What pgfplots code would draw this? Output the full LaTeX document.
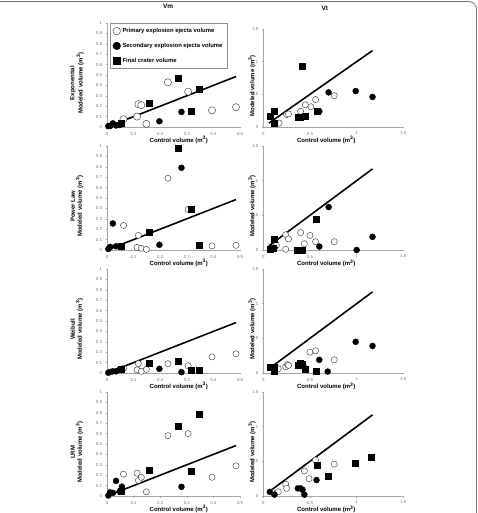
\documentclass[border=0pt]{standalone}
\usepackage{pgfplots}
\pgfplotsset{compat=1.18}
\usepackage{fontspec}
\setmainfont{Liberation Sans}
\pgfplotsset{
  base/.style={scale only axis, axis x line=bottom, axis y line=left,
    axis line style={-, black!35, line width=0.5pt},
    tick style={black!35, line width=0.4pt}, tick align=outside, major tick length=1.5pt,
    ticklabel style={font=\fontsize{4.3}{5}\selectfont, text=black!55},
    /pgf/number format/assume math mode=true,
    xtick pos=bottom, ytick pos=left,
    clip=false,
    xlabel={Control volume (m\textsuperscript{3})},
    xlabel style={font=\fontsize{6}{7}\selectfont\bfseries, inner sep=0pt, anchor=center},
    ylabel style={font=\fontsize{6}{7}\selectfont\bfseries, inner sep=0pt, align=center, rotate=0, anchor=center},
    title style={font=\fontsize{6.5}{7}\selectfont\bfseries, inner sep=0pt, anchor=center},
  },
  vm/.style={base, width=133pt, height=104pt, xmin=0, xmax=0.5, ymin=0, ymax=1,
    xtick={0,0.1,0.2,0.3,0.4,0.5}, ytick={0,0.1,0.2,0.3,0.4,0.5,0.6,0.7,0.8,0.9,1},
    xlabel style={at={(axis description cs:0.54,-0.125)}},
    ylabel style={at={(axis description cs:-0.226,0.42)}},
    title style={at={(axis description cs:0.46,1.10)}}},
  vt/.style={base, width=140pt, height=104pt, xmin=0, xmax=1.5, ymin=0, ymax=1.5,
    xtick={0,0.5,1,1.5}, ytick={0,0.5,1,1.5},
    xlabel style={at={(axis description cs:0.45,-0.13)}},
    ylabel={Modeled volume (m\textsuperscript{3})},
    ylabel style={at={(axis description cs:-0.08,0.42)}}},
  prim/.style={only marks, mark=*, mark size=3.1pt, mark options={fill=white, draw=black!75, line width=0.45pt}},
  sec/.style={only marks, mark=*, mark size=3pt, mark options={fill=black, draw=black}},
  fin/.style={only marks, mark=square*, mark size=3pt, mark options={fill=black, draw=black}},
  oneline/.style={black, line width=1.6pt, no marks, forget plot},
}
\begin{document}
\begin{tikzpicture}
\useasboundingbox (0pt,0pt) rectangle (478pt,513pt);
\draw[black!55, line width=0.8pt, rounded corners=8pt] (-5pt,511.5pt) -- (476.5pt,511.5pt) -- (476.5pt,-5pt);

% ---------------- Row 1: Exponential ----------------
\begin{axis}[vm, at={(107pt,386pt)}, anchor=south west, title={Vm},
  ylabel={Exponential\\Modeled volume (m\textsuperscript{3})},
  legend style={at={(0.02,1.0)}, anchor=north west, draw=black!45, line width=0.5pt,
    font=\fontsize{5.9}{7}\selectfont\bfseries, row sep=5pt, inner xsep=3pt, inner ysep=3pt,
    cells={anchor=west}},
  legend image code/.code={\draw[#1, mark size=3.8pt] plot coordinates {(0.2cm,0cm)};}]
\addplot[oneline] coordinates {(0.01,0.01) (0.485,0.485)};
\addplot[prim, mark size=3.6pt] coordinates {(0.062,0.075) (0.113,0.10) (0.118,0.22) (0.129,0.21) (0.148,0.03) (0.229,0.43) (0.305,0.34) (0.395,0.16) (0.485,0.19)};
\addlegendentry{Primary explosion ejecta volume}
\addplot[sec] coordinates {(0.005,0.008) (0.012,0.01) (0.022,0.035) (0.034,0.015) (0.048,0.02) (0.056,0.03) (0.197,0.055) (0.28,0.145)};
\addlegendentry{Secondary explosion ejecta volume}
\addplot[fin] coordinates {(0.055,0.04) (0.158,0.23) (0.266,0.47) (0.315,0.15) (0.348,0.36)};
\addlegendentry{Final crater volume}
\end{axis}
\begin{axis}[vt, height=98pt, at={(263.3pt,386pt)}, anchor=south west, title={Vt},
  title style={at={(axis description cs:0.44,1.15)}}]
\addplot[oneline] coordinates {(0.06,0.06) (1.17,1.17)};
\addplot[prim] coordinates {(0.17,0.06) (0.25,0.19) (0.27,0.20) (0.40,0.24) (0.45,0.34) (0.51,0.31) (0.56,0.42) (0.76,0.48)};
\addplot[sec] coordinates {(0.12,0.06) (0.60,0.24) (0.70,0.53) (0.99,0.55) (1.17,0.46)};
\addplot[fin] coordinates {(0.07,0.17) (0.12,0.24) (0.12,0.06) (0.37,0.145) (0.40,0.15) (0.42,0.93) (0.45,0.16) (0.58,0.24)};
\end{axis}

% ---------------- Row 2: Power Law ----------------
\begin{axis}[vm, at={(107pt,263pt)}, anchor=south west,
  ylabel={Power Law\\Modeled volume (m\textsuperscript{3})}]
\addplot[oneline] coordinates {(0.01,0.01) (0.485,0.485)};
\addplot[prim] coordinates {(0.062,0.235) (0.113,0.025) (0.118,0.14) (0.129,0.016) (0.148,0.006) (0.229,0.69) (0.305,0.39) (0.395,0.04) (0.485,0.045)};
\addplot[sec] coordinates {(0.005,0.01) (0.012,0.03) (0.022,0.255) (0.034,0.035) (0.048,0.035) (0.056,0.028) (0.197,0.05) (0.28,0.79)};
\addplot[fin] coordinates {(0.055,0.035) (0.158,0.17) (0.266,0.98) (0.315,0.39) (0.348,0.05)};
\end{axis}
\begin{axis}[vt, at={(263.3pt,263pt)}, anchor=south west]
\addplot[oneline] coordinates {(0.06,0.06) (1.17,1.17)};
\addplot[prim] coordinates {(0.14,0.07) (0.24,0.22) (0.27,0.16) (0.24,0.01) (0.40,0.25) (0.44,0.09) (0.50,0.21) (0.56,0.12) (0.76,0.12)};
\addplot[sec] coordinates {(0.12,0.03) (0.60,0.05) (0.70,0.62) (1.0,0.0) (1.17,0.19)};
\addplot[fin] coordinates {(0.07,0.01) (0.12,0.15) (0.11,0.03) (0.36,0.0) (0.39,0.0) (0.42,0.0) (0.57,0.45)};
\end{axis}

% ---------------- Row 3: Weibull ----------------
\begin{axis}[vm, at={(107pt,140pt)}, anchor=south west,
  ylabel={Weibull\\Modeled volume (m\textsuperscript{3})}]
\addplot[oneline] coordinates {(0.01,0.01) (0.485,0.485)};
\addplot[prim] coordinates {(0.062,0.045) (0.113,0.03) (0.118,0.09) (0.129,0.016) (0.148,0.035) (0.229,0.09) (0.305,0.07) (0.395,0.155) (0.485,0.185)};
\addplot[sec] coordinates {(0.005,0.003) (0.012,0.01) (0.022,0.016) (0.034,0.016) (0.048,0.035) (0.056,0.028) (0.197,0.04) (0.28,0.008)};
\addplot[fin] coordinates {(0.055,0.04) (0.158,0.09) (0.266,0.11) (0.315,0.03) (0.348,0.03)};
\end{axis}
\begin{axis}[vt, at={(263.3pt,140pt)}, anchor=south west]
\addplot[oneline] coordinates {(0.06,0.06) (1.17,1.17)};
\addplot[prim] coordinates {(0.16,0.06) (0.24,0.09) (0.26,0.12) (0.27,0.11) (0.40,0.10) (0.43,0.10) (0.50,0.30) (0.56,0.32) (0.76,0.19)};
\addplot[sec] coordinates {(0.12,0.05) (0.60,0.19) (0.69,0.02) (0.99,0.45) (1.17,0.39)};
\addplot[fin] coordinates {(0.07,0.09) (0.12,0.09) (0.12,0.02) (0.37,0.11) (0.40,0.14) (0.42,0.12) (0.45,0.06) (0.57,0.02)};
\end{axis}

% ---------------- Row 4: LRM ----------------
\begin{axis}[vm, at={(107pt,17pt)}, anchor=south west,
  ylabel={LRM\\Modeled volume (m\textsuperscript{3})}]
\addplot[oneline] coordinates {(0.01,0.01) (0.485,0.485)};
\addplot[prim] coordinates {(0.062,0.21) (0.113,0.22) (0.118,0.15) (0.129,0.18) (0.148,0.04) (0.229,0.58) (0.305,0.60) (0.395,0.18) (0.485,0.29)};
\addplot[sec] coordinates {(0.005,0.005) (0.012,0.035) (0.022,0.03) (0.034,0.145) (0.048,0.045) (0.056,0.09) (0.28,0.088)};
\addplot[fin] coordinates {(0.055,0.05) (0.158,0.25) (0.266,0.67) (0.315,0.24) (0.348,0.79)};
\end{axis}
\begin{axis}[vt, at={(263.3pt,17pt)}, anchor=south west]
\addplot[oneline] coordinates {(0.06,0.06) (1.17,1.17)};
\addplot[prim] coordinates {(0.10,0.05) (0.16,0.06) (0.24,0.17) (0.25,0.11) (0.44,0.36) (0.49,0.25) (0.56,0.52) (0.76,0.46)};
\addplot[sec] coordinates {(0.07,0.06) (0.12,0.02) (0.37,0.11) (0.40,0.11) (0.42,0.09) (0.44,0.02) (0.57,0.23)};
\addplot[fin] coordinates {(0.58,0.45) (0.69,0.28) (0.98,0.47) (1.16,0.56)};
\end{axis}
\end{tikzpicture}
\end{document}
